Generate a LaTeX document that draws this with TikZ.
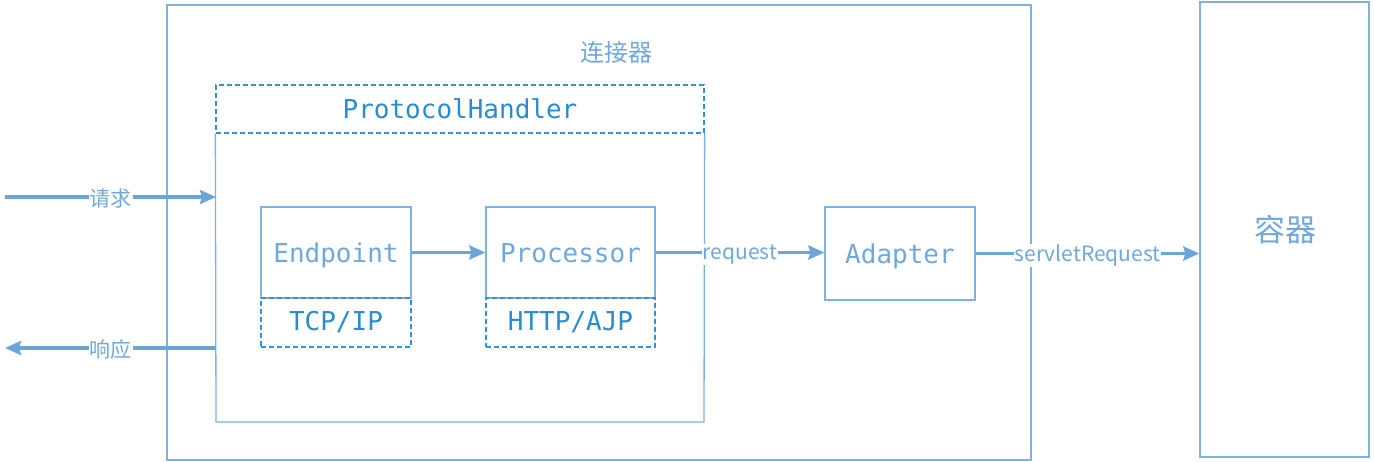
\documentclass[tikz,border=0pt]{standalone}
\usepackage{fontspec}
\usetikzlibrary{arrows.meta,calc}
\newfontfamily\cjk{Noto Sans CJK SC}
\newfontfamily\monof{DejaVu Sans Mono}
\definecolor{linec}{RGB}{126,178,226}
\definecolor{dashc}{RGB}{50,145,215}
\definecolor{arrc}{RGB}{108,166,217}
\definecolor{lighttext}{RGB}{111,168,220}
\definecolor{darktext}{RGB}{40,140,212}
\tikzset{
  box/.style={draw=linec, line width=1.3pt, inner sep=0pt, text=lighttext},
  dbox/.style={draw=dashc, line width=1.3pt, dash pattern=on 5pt off 3pt, inner sep=0pt, text=darktext},
  comp/.style={box, font=\monof\fontsize{26}{30}\selectfont, text height=22pt, text depth=2pt},
  proto/.style={dbox, font=\monof\fontsize{26}{30}\selectfont},
  arr/.style={draw=arrc, line width=3.2pt, -{Stealth[length=16pt,width=14pt,inset=2pt]}},
  lab/.style={fill=white, inner sep=1pt, text=lighttext, font=\cjk\fontsize{21}{24}\selectfont, yshift=-2pt},
  cnlab/.style={text=lighttext, inner sep=0pt},
}
\begin{document}
\begin{tikzpicture}[x=1pt,y=-1pt]
\useasboundingbox (0,0) rectangle (1374,462);
% connector box
\node[box, minimum width=864pt, minimum height=455pt] (conn) at (599,232.5) {};
\node[cnlab, font=\cjk\fontsize{24}{28}\selectfont] (connlab) at (616,52) {连接器};
% protocol handler
\node[dbox, minimum width=488pt, minimum height=48pt, font=\monof\fontsize{26}{30}\selectfont] (ph) at (460,109) {ProtocolHandler};
\coordinate (phbl) at (216,422);
\coordinate (phbr) at (704,422);
\draw[draw=linec, line width=1.3pt] (ph.south west) -- (phbl) -- (phbr) -- (ph.south east);
% components
\node[comp, minimum width=150pt, minimum height=91pt] (ep) at (336,252.5) {Endpoint};
\node[proto, minimum width=150pt, minimum height=49pt] (tcp) at (336,322.5) {TCP/IP};
\node[comp, minimum width=169pt, minimum height=91pt] (proc) at (570.5,252.5) {Processor};
\node[proto, minimum width=169pt, minimum height=49pt] (http) at (570.5,322.5) {HTTP/AJP};
\node[comp, minimum width=150pt, minimum height=93pt] (adp) at (900,253.5) {Adapter};
% container
\node[box, minimum width=169pt, minimum height=455pt] (cont) at (1284.5,229.5) {};
\node[cnlab, font=\cjk\fontsize{31}{34}\selectfont] (contlab) at (1285,230) {容器};
% arrows
\coordinate (reqs) at (5,197);
\coordinate (resp) at (5,348);
\draw[arr] (reqs) -- (reqs -| phbl) node[lab, midway] (reqlab) {请求};
\draw[arr] (resp -| phbl) -- (resp) node[lab, midway] (resplab) {响应};
\draw[arr] (ep.east) -- (proc.west);
\draw[arr] (proc.east) -- (proc.east -| adp.west) node[lab, midway] (rqlab) {request};
\draw[arr] (adp.east) -- (adp.east -| cont.west) node[lab, midway] (srlab) {servletRequest};
\end{tikzpicture}
\end{document}
